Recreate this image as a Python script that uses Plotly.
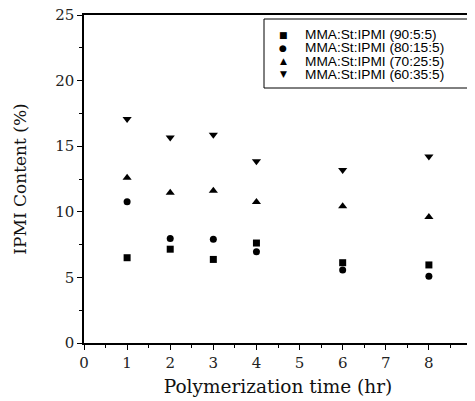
import plotly.graph_objects as go

time_hr = [1, 2, 3, 4, 6, 8]
series_names = ["MMA:St:IPMI (90:5:5)", "MMA:St:IPMI (80:15:5)",
                "MMA:St:IPMI (70:25:5)", "MMA:St:IPMI (60:35:5)"]
ipmi_90 = [6.5, 7.15, 6.37, 7.62, 6.12, 5.95]
ipmi_80 = [10.77, 7.97, 7.9, 6.96, 5.57, 5.08]
ipmi_70 = [12.6, 11.45, 11.6, 10.75, 10.42, 9.6]
ipmi_60 = [17.07, 15.67, 15.88, 13.85, 13.18, 14.22]

symbols = ["square", "circle", "triangle-up", "triangle-down"]
legend_glyphs = ["\u25A0", "\u25CF", "\u25B2", "\u25BC"]
sizes = [7, 7, 8, 8]
values = [ipmi_90, ipmi_80, ipmi_70, ipmi_60]

fig = go.Figure()
for name, vals, sym, sz in zip(series_names, values, symbols, sizes):
    fig.add_trace(go.Scatter(
        x=time_hr, y=vals, mode="markers", name=name, showlegend=False,
        marker=dict(symbol=sym, size=sz, color="black", line=dict(width=0)),
    ))

serif = "DejaVu Serif"
axis_common = dict(
    showline=True, linecolor="black", linewidth=1.5, mirror=True,
    ticks="outside", ticklen=5, tickcolor="black", tickwidth=1,
    showgrid=False, zeroline=False, automargin=False,
    ticklabeloverflow="allow",
    tickfont=dict(family=serif, size=15, color="#222"),
    minor=dict(ticks="outside", ticklen=3, tickcolor="black", dtick=0.5),
)

# page has an 8px body margin; plot area geometry in screen px (layout only)
OFF = 8
FW, FH = 475 - OFF, 401 - OFF
L, T, W, H = 84, 15, 388, 328

fig.update_layout(
    width=FW, height=FH,
    margin=dict(l=L - OFF, r=FW - (L - OFF) - W, t=T - OFF, b=FH - (T - OFF) - H),
    paper_bgcolor="white", plot_bgcolor="white",
    showlegend=False,
)
fig.update_xaxes(range=[0, 9], dtick=1, **axis_common,
                 title=dict(text="Polymerization time (hr)",
                            font=dict(family=serif, size=18.5, color="#111"),
                            standoff=9))
fig.update_yaxes(range=[0, 25], dtick=5, **axis_common,
                 title=dict(text="IPMI Content (%)",
                            font=dict(family=serif, size=17, color="#111"),
                            standoff=24))
fig.update_yaxes(minor=dict(dtick=2.5))

# custom compact legend box (screen px)
bx0, bx1, by0, by1 = 264, 468, 19, 88
fig.add_shape(type="rect", xref="paper", yref="paper",
              x0=(bx0 - L) / W, x1=(bx1 - L) / W,
              y0=1 - (by1 - T) / H, y1=1 - (by0 - T) / H,
              line=dict(color="black", width=1), fillcolor="white", layer="above")
row_y = [34.5, 47.8, 61.1, 74.4]
for name, glyph, ry in zip(series_names, legend_glyphs, row_y):
    fig.add_annotation(xref="paper", yref="paper", x=0, y=1,
                       xanchor="center", yanchor="middle",
                       xshift=283 - L, yshift=-(ry - T),
                       text=glyph, showarrow=False,
                       font=dict(family="DejaVu Sans", size=9, color="black"))
    fig.add_annotation(xref="paper", yref="paper", x=0, y=1,
                       xanchor="left", yanchor="middle",
                       xshift=303 - L, yshift=-(ry - T),
                       text=name, showarrow=False,
                       font=dict(family="Liberation Sans", size=13.7, color="black"))

fig.write_html("out.html")
